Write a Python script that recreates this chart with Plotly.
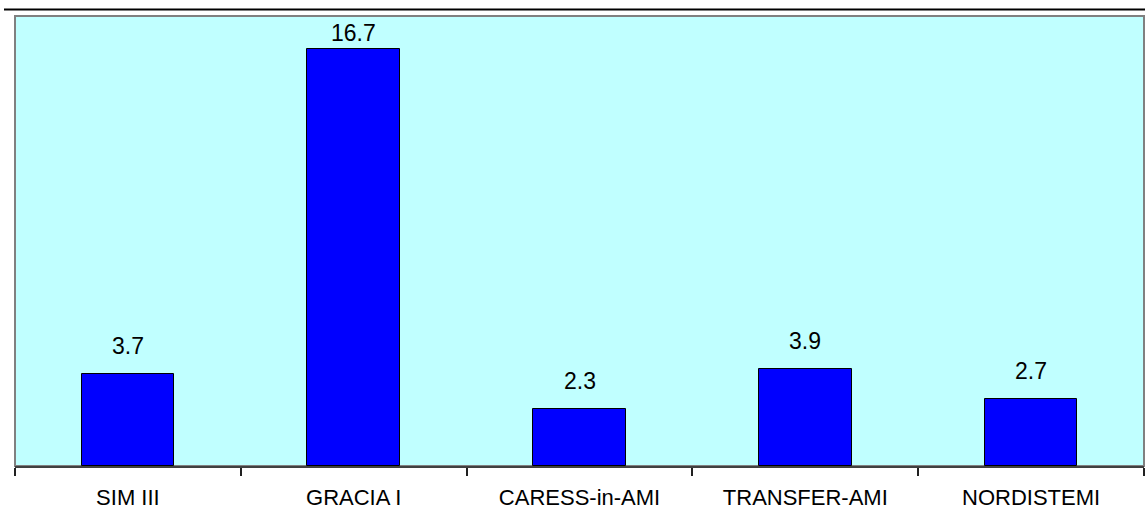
import plotly.graph_objects as go

categories = ["SIM III", "GRACIA I", "CARESS-in-AMI", "TRANSFER-AMI", "NORDISTEMI"]
values = [3.7, 16.7, 2.3, 3.9, 2.7]
value_labels = ["3.7", "16.7", "2.3", "3.9", "2.7"]

Y_MAX = 18
FONT = "Liberation Sans, Arial, sans-serif"

fig = go.Figure()
fig.add_trace(go.Bar(
    x=categories, y=values, width=0.41,
    marker=dict(color="#0000FF", line=dict(color="#000000", width=1)),
    hoverinfo="skip",
))

for c, v, t in zip(categories, values, value_labels):
    fig.add_annotation(
        x=c, y=min(v + 0.52, 16.72), xref="x", yref="y", text=t,
        showarrow=False, yanchor="bottom", xanchor="center",
        font=dict(family=FONT, size=23, color="#000000"),
    )

# plot-area border
fig.add_shape(type="rect", xref="paper", yref="paper", x0=0, y0=0, x1=1, y1=1,
              line=dict(color="#808080", width=2), layer="below")
# top black line
fig.add_shape(type="line", xref="paper", yref="paper", x0=-11 / 1129, x1=1.01,
              y0=1 + 6.5 / 450, y1=1 + 6.5 / 450,
              line=dict(color="#000000", width=2))

fig.update_layout(
    width=1145, height=516,
    margin=dict(l=15, r=1, t=16, b=50),
    paper_bgcolor="#FFFFFF", plot_bgcolor="#C0FFFF",
    showlegend=False, bargap=0,
    xaxis=dict(
        showline=True, linecolor="#404040", linewidth=2,
        ticks="outside", tickson="boundaries", ticklen=8, tickwidth=2, tickcolor="#202020",
        ticklabelstandoff=11,
        showgrid=False, zeroline=False,
        tickfont=dict(family=FONT, size=22, color="#000000"),
        fixedrange=True,
    ),
    yaxis=dict(range=[0, Y_MAX], visible=False, showgrid=False, zeroline=False, fixedrange=True),
)

fig.write_html("out.html")
